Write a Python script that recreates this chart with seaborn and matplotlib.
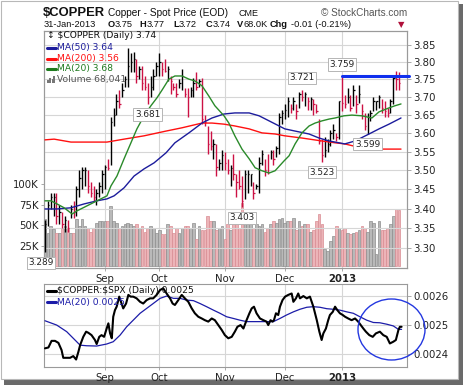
import numpy as np
import matplotlib
matplotlib.use("Agg")
import matplotlib.pyplot as plt
import seaborn as sns
from matplotlib.patches import Rectangle, Ellipse
from matplotlib.lines import Line2D
from matplotlib.ticker import FixedLocator, FuncFormatter, NullLocator

sns.set_theme(style="white")
plt.rcParams["font.family"] = ["DejaVu Sans"]

# ---------------- data ----------------
month_labels = ["Sep", "Oct", "Nov", "Dec", "2013"]
month_lengths = [21, 19, 23, 21, 20, 21]   # Aug .. Jan trading days

aug_h = [3.37, 3.42, 3.44, 3.44, 3.44, 3.41, 3.39, 3.38, 3.37, 3.41, 3.42, 3.46, 3.50, 3.51, 3.51, 3.50, 3.47, 3.46, 3.45, 3.47, 3.50]
aug_l = [3.289, 3.355, 3.40, 3.38, 3.36, 3.36, 3.35, 3.34, 3.34, 3.375, 3.375, 3.38, 3.43, 3.45, 3.46, 3.44, 3.43, 3.42, 3.41, 3.43, 3.44]
aug_c = [3.36, 3.41, 3.43, 3.43, 3.38, 3.39, 3.36, 3.37, 3.35, 3.40, 3.39, 3.45, 3.48, 3.50, 3.50, 3.46, 3.44, 3.43, 3.44, 3.46, 3.49]

sep_h = [3.515, 3.53, 3.645, 3.67, 3.71, 3.72, 3.74, 3.76, 3.84, 3.825, 3.83, 3.81, 3.79, 3.79, 3.76, 3.74, 3.76, 3.78, 3.80]
sep_l = [3.45, 3.50, 3.515, 3.62, 3.65, 3.67, 3.70, 3.73, 3.73, 3.77, 3.77, 3.74, 3.75, 3.72, 3.72, 3.681, 3.70, 3.72, 3.76]
sep_c = [3.51, 3.505, 3.63, 3.65, 3.69, 3.68, 3.72, 3.75, 3.79, 3.80, 3.81, 3.76, 3.78, 3.74, 3.73, 3.70, 3.73, 3.76, 3.79]

oct_h = [3.825, 3.80, 3.81, 3.79, 3.76, 3.74, 3.74, 3.75, 3.78, 3.725, 3.725, 3.73, 3.755, 3.77, 3.75, 3.755, 3.65, 3.62, 3.605, 3.585, 3.57, 3.53, 3.555]
oct_l = [3.76, 3.76, 3.77, 3.745, 3.71, 3.72, 3.70, 3.725, 3.72, 3.70, 3.645, 3.70, 3.70, 3.72, 3.73, 3.625, 3.62, 3.545, 3.555, 3.53, 3.485, 3.50, 3.50]
oct_c = [3.80, 3.78, 3.775, 3.78, 3.745, 3.73, 3.71, 3.74, 3.76, 3.71, 3.70, 3.72, 3.74, 3.73, 3.745, 3.64, 3.63, 3.57, 3.565, 3.57, 3.51, 3.52, 3.54]

nov_h = [3.55, 3.53, 3.515, 3.545, 3.49, 3.50, 3.485, 3.50, 3.50, 3.49, 3.47, 3.465, 3.535, 3.555, 3.53, 3.545, 3.555, 3.555, 3.565, 3.655, 3.665]
nov_l = [3.50, 3.49, 3.46, 3.475, 3.43, 3.45, 3.403, 3.425, 3.44, 3.46, 3.425, 3.45, 3.44, 3.515, 3.485, 3.49, 3.53, 3.515, 3.535, 3.545, 3.625]
nov_c = [3.52, 3.50, 3.505, 3.49, 3.47, 3.46, 3.42, 3.49, 3.49, 3.49, 3.44, 3.46, 3.52, 3.545, 3.50, 3.495, 3.55, 3.53, 3.56, 3.645, 3.655]

dec_h = [3.68, 3.70, 3.68, 3.70, 3.68, 3.715, 3.721, 3.715, 3.70, 3.70, 3.695, 3.68, 3.64, 3.585, 3.59, 3.585, 3.61, 3.625, 3.60, 3.69]
dec_l = [3.64, 3.645, 3.655, 3.665, 3.64, 3.67, 3.69, 3.675, 3.665, 3.665, 3.65, 3.655, 3.57, 3.523, 3.535, 3.55, 3.565, 3.585, 3.58, 3.585]
dec_c = [3.665, 3.69, 3.67, 3.69, 3.66, 3.71, 3.70, 3.71, 3.69, 3.695, 3.68, 3.66, 3.58, 3.54, 3.555, 3.57, 3.60, 3.61, 3.59, 3.69]

jan_h = [3.759, 3.705, 3.725, 3.705, 3.735, 3.705, 3.735, 3.68, 3.655, 3.655, 3.665, 3.70, 3.69, 3.705, 3.695, 3.69, 3.67, 3.695, 3.76, 3.775, 3.77]
jan_l = [3.66, 3.67, 3.685, 3.66, 3.675, 3.655, 3.685, 3.64, 3.61, 3.599, 3.635, 3.66, 3.665, 3.67, 3.655, 3.645, 3.645, 3.655, 3.68, 3.72, 3.72]
jan_c = [3.685, 3.68, 3.70, 3.67, 3.72, 3.68, 3.71, 3.66, 3.62, 3.645, 3.655, 3.69, 3.69, 3.70, 3.67, 3.66, 3.655, 3.69, 3.755, 3.75, 3.74]

# volume in thousands
aug_v = [57, 40, 49, 45, 40, 40, 46, 49, 45, 40, 40, 57, 49, 57, 49, 46, 41, 46, 52, 55, 55]
sep_v = [55, 55, 73, 55, 53, 46, 49, 51, 53, 51, 49, 51, 46, 49, 42, 46, 49, 46, 40]
oct_v = [44, 39, 39, 51, 49, 40, 46, 40, 46, 49, 49, 46, 53, 33, 49, 44, 44, 61, 55, 55, 44, 46, 49]
nov_v = [33, 51, 44, 51, 53, 46, 77, 51, 57, 55, 46, 51, 49, 51, 42, 46, 51, 55, 53, 57, 59]
dec_v = [53, 55, 55, 59, 44, 55, 49, 51, 51, 42, 44, 55, 63, 51, 21, 18, 31, 37, 49, 46]
jan_v = [44, 46, 40, 39, 40, 42, 44, 49, 46, 42, 55, 53, 15, 55, 44, 44, 46, 51, 61, 70, 68.041]

# moving averages (bar position, value)
ma20_pos = [0, 2.1, 4.2, 6.7, 9.5, 11.2, 14.7, 18.2, 21.7, 23.1, 25.2, 27.7, 30.1, 32.2, 34.7, 37.1, 39.2, 41, 43.4, 45.5,
            48, 50.4, 52.5, 55, 57.4, 59.5, 62.7, 64.4, 66.5, 69, 71.5, 73.6, 76, 78.5, 80.6, 83.7, 85.5, 87.6, 90, 92.5,
            94.6, 97, 99.5, 101.6, 104.7, 107.5, 111, 114.5, 117, 120.5, 122.6, 124.7]
ma20_val = [3.42, 3.42, 3.412, 3.402, 3.386, 3.394, 3.407, 3.42, 3.433, 3.459, 3.485, 3.531, 3.574, 3.612, 3.648, 3.676, 3.698, 3.72, 3.751, 3.760,
            3.760, 3.751, 3.746, 3.732, 3.703, 3.676, 3.648, 3.628, 3.593, 3.557, 3.531, 3.507, 3.499, 3.493, 3.499, 3.525, 3.539, 3.571, 3.601, 3.620,
            3.628, 3.634, 3.639, 3.642, 3.648, 3.650, 3.648, 3.642, 3.659, 3.670, 3.676, 3.681]
ma50_pos = [0, 4.2, 9.1, 13.7, 18.2, 21.7, 24.2, 27.7, 31.2, 34.7, 38.2, 42.4, 45.5, 50.4, 55, 58.5, 62.7, 66.5, 71.5, 75,
            78.5, 82, 84, 87.6, 92.5, 96, 99.5, 103, 105, 108.6, 113.5, 117, 120.5, 124.7]
ma50_val = [3.399, 3.399, 3.402, 3.412, 3.42, 3.425, 3.433, 3.454, 3.485, 3.504, 3.520, 3.547, 3.574, 3.601, 3.628, 3.642, 3.653, 3.656, 3.656, 3.648,
            3.634, 3.620, 3.612, 3.606, 3.598, 3.587, 3.579, 3.574, 3.571, 3.579, 3.598, 3.612, 3.625, 3.642]
ma200_pos = [0, 3.2, 9.1, 21.7, 27.7, 34.7, 42.4, 48, 55, 58.5, 62.7, 66.5, 71.5, 76, 80.6, 84, 90, 97, 101.6, 105, 111, 118, 124.7]
ma200_val = [3.582, 3.584, 3.576, 3.576, 3.584, 3.593, 3.606, 3.615, 3.628, 3.628, 3.625, 3.620, 3.612, 3.601, 3.598, 3.593, 3.587, 3.579, 3.574, 3.571, 3.560, 3.557, 3.557]

# $COPPER:$SPX ratio (x 1e-4) and its MA(20)
ratio_pos = [0, 1.2, 2.3, 3.5, 4.7, 5.8, 6.4, 8.8, 9.9, 10.9, 11.7, 12.3, 13.4, 14.4, 15.2, 16.3, 17.5, 18.1, 19.0, 19.8,
             20.7, 21.6, 22.2, 22.8, 23.4, 23.9, 24.5, 25.1, 26.0, 27.4, 28.4, 29.2, 30.0, 30.9, 32.1, 33.3, 34.4, 35.6, 36.8, 37.9,
             39.1, 40.3, 41.4, 42.6, 43.8, 44.7, 45.5, 46.7, 47.9, 49.0, 50.2, 51.4, 52.5, 53.7, 54.9, 56.0, 57.2, 58.4, 59.5, 60.7,
             61.9, 63.0, 64.2, 65.4, 66.5, 67.4, 68.5, 69.5, 70.6, 71.6, 72.4, 73.2, 74.1, 75.3, 76.5, 77.6, 78.2, 79.0, 79.7, 80.2,
             80.9, 81.7, 82.3, 83.2, 84.1, 85.2, 86.4, 87.0, 87.9, 88.7, 89.3, 90.5, 91.7, 92.8, 94.0, 94.6, 95.2, 96.1, 96.9, 97.5,
             98.4, 99.2, 99.8, 100.8, 101.6, 102.4, 103.3, 104.3, 105.1, 106.2, 107.4, 108.6, 109.7, 110.6, 111.5, 112.4, 113.6, 114.8, 115.9, 117.3,
             118.5, 119.7, 120.8, 122.0, 122.9, 123.8, 124.3, 124.9]
ratio_e4 = [24.19, 24.22, 24.45, 24.45, 24.38, 24.13, 23.86, 23.86, 23.92, 23.80, 24.07, 24.30, 24.59, 24.77, 24.73, 24.65, 24.48, 24.34, 24.59, 24.65,
            24.59, 24.88, 25.06, 24.71, 24.54, 25.29, 25.52, 25.64, 25.99, 25.58, 25.75, 26.05, 25.99, 25.99, 25.93, 25.81, 25.75, 25.87, 25.93, 25.93,
            26.05, 26.22, 26.28, 26.10, 25.93, 25.75, 25.70, 25.87, 26.05, 25.93, 25.81, 25.58, 25.41, 25.29, 25.23, 25.17, 25.12, 25.23, 25.17, 25.00,
            24.83, 24.65, 24.54, 24.59, 24.77, 24.94, 25.00, 24.88, 25.17, 25.41, 25.58, 25.64, 25.41, 25.23, 25.17, 25.12, 25.00, 25.17, 25.12, 25.17,
            25.41, 25.35, 25.64, 25.87, 25.99, 26.05, 26.10, 25.81, 25.93, 26.10, 25.93, 26.01, 25.93, 25.99, 25.64, 25.41, 25.17, 24.77, 24.48, 24.71,
            24.88, 25.17, 25.35, 25.46, 25.64, 25.52, 25.41, 25.35, 25.29, 25.23, 25.17, 25.23, 25.12, 25.00, 24.88, 24.77, 24.65, 24.59, 24.71, 24.77,
            24.65, 24.59, 24.36, 24.42, 24.48, 24.83, 24.94, 24.94]
rma_pos = [0, 4.1, 7.6, 11.1, 12.3, 14.6, 18.1, 21.6, 23.9, 26.3, 28.6, 30.9, 33.3, 35.6, 37.9, 40.3, 42.6, 45.0, 47.3, 49.6,
           52.0, 54.3, 56.6, 59.0, 61.3, 63.6, 66.0, 68.3, 70.6, 73.0, 76.5, 80.0, 82.3, 84.6, 87.0, 89.3, 91.7, 94.0, 96.3, 98.7,
           101.0, 103.3, 105.7, 108.0, 110.3, 112.7, 115.0, 117.3, 119.7, 122.0, 123.8, 124.9]
rma_e4 = [25.15, 25.00, 24.77, 24.42, 24.30, 24.28, 24.27, 24.34, 24.42, 24.65, 24.94, 25.17, 25.41, 25.58, 25.75, 25.93, 26.01, 25.93, 25.93, 25.87,
          25.85, 25.75, 25.64, 25.52, 25.41, 25.29, 25.23, 25.17, 25.12, 25.12, 25.12, 25.12, 25.23, 25.35, 25.46, 25.55, 25.62, 25.64, 25.62, 25.57,
          25.55, 25.52, 25.46, 25.41, 25.29, 25.17, 25.09, 25.08, 25.03, 24.97, 24.85, 24.85]

price_ticks = [3.30, 3.35, 3.40, 3.45, 3.50, 3.55, 3.60, 3.65, 3.70, 3.75, 3.80, 3.85]
vol_ticks = [25, 50, 75, 100]
ratio_ticks = [0.0024, 0.0025, 0.0026]
resistance = 3.759
marks = [(3.289, 0, "below"), (3.681, 36, "below"), (3.403, 69, "below"), (3.721, 90, "above"),
         (3.523, 97, "below"), (3.759, 104, "above"), (3.599, 113, "below")]

# ---------------- assemble ----------------
high = np.array(aug_h + sep_h + oct_h + nov_h + dec_h + jan_h)
low = np.array(aug_l + sep_l + oct_l + nov_l + dec_l + jan_l)
close = np.array(aug_c + sep_c + oct_c + nov_c + dec_c + jan_c)
volume = np.array(aug_v + sep_v + oct_v + nov_v + dec_v + jan_v, dtype=float)
n = len(close)
idx = np.arange(n)
prev = np.r_[-np.inf, close[:-1]]
down = close < prev
month_ticks = list(np.cumsum(month_lengths)[:-1])

W, H = 464, 387
fig = plt.figure(figsize=(W / 100, H / 100), dpi=100)
fig.patch.set_facecolor("white")


def box(l, t, r, b):
    return [l / W, 1 - b / H, (r - l) / W, (b - t) / H]


# frame with drop shadow
fig.add_artist(Rectangle((4 / W, 1 - 385 / H), 459 / W, 381 / H, transform=fig.transFigure,
                         facecolor="#6a6a6a", edgecolor="none", zorder=-20))
fig.add_artist(Rectangle((0.5 / W, 1 - 378.5 / H), 457.5 / W, 378 / H, transform=fig.transFigure,
                         facecolor="white", edgecolor="#b8b8b8", lw=0.8, zorder=-19))

XL = (-0.35, 126.8)
grid_c = "#d6d6d6"
spine_c = "#9a9a9a"

# ---------------- main panel ----------------
ax_vol = fig.add_axes(box(44, 31, 407, 268))
ax_vol.set_facecolor("white")
vcol = np.where(down, "#ecb4b8", "#b9b9b9")
vedge = np.where(down, "#d98c93", "#8e8e8e")
ax_vol.bar(idx, volume, width=0.92, color=vcol, edgecolor=vedge, linewidth=0.5, zorder=2)
ax_vol.set_ylim(-2.4, 286.6)
ax_vol.set_xlim(*XL)
ax_vol.set_yticks(vol_ticks)
ax_vol.set_yticklabels([f"{v}K" for v in vol_ticks])
ax_vol.set_xticks(month_ticks)
ax_vol.set_xticklabels(month_labels)
ax_vol.grid(True, axis="x", color=grid_c, lw=0.8, zorder=0)
ax_vol.set_axisbelow(True)
ax_vol.tick_params(axis="y", left=True, length=2, width=0.6, color=spine_c, labelsize=7.3, pad=1.5, labelcolor="#222222")
ax_vol.tick_params(axis="x", bottom=True, length=2, width=0.6, color=spine_c, labelsize=7.3, pad=2.5, labelcolor="#222222")
for t in ax_vol.get_xticklabels():
    if t.get_text() == "2013":
        t.set_fontweight("bold")

ax = ax_vol.twinx()
ax.set_yscale("log")
ax.set_ylim(3.250, 3.8906)
ax.set_xlim(*XL)
ax.yaxis.set_major_locator(FixedLocator(price_ticks))
ax.yaxis.set_major_formatter(FuncFormatter(lambda v, p: f"{v:.2f}"))
ax.yaxis.set_minor_locator(NullLocator())
ax.grid(True, axis="y", color=grid_c, lw=0.8, zorder=0)
ax.tick_params(axis="y", right=True, length=3, width=0.6, color=spine_c, labelsize=7.3, pad=1.5, labelcolor="#222222")

pc = np.where(down, "#cc1144", "#000000")
ax.vlines(idx, low, high, colors=pc, lw=1.0, zorder=3)
ax.hlines(close, idx, idx + 0.5, colors=pc, lw=0.9, zorder=3)

sns.lineplot(x=ma200_pos, y=ma200_val, ax=ax, color="#ff1010", lw=1.0, sort=False, estimator=None, zorder=4)
sns.lineplot(x=ma50_pos, y=ma50_val, ax=ax, color="#1c1c9c", lw=1.0, sort=False, estimator=None, zorder=4)
sns.lineplot(x=ma20_pos, y=ma20_val, ax=ax, color="#2a8a2a", lw=1.0, sort=False, estimator=None, zorder=4)
sns.lineplot(x=[104, 127.6], y=[resistance, resistance], ax=ax, color="#1030ee", lw=2.2,
             sort=False, estimator=None, zorder=5, clip_on=False)

for val, i, where in marks:
    off = 8.5 if where == "above" else -7.6
    dx = -3 if i == 0 else 0
    ax.annotate(f"{val:.3f}", xy=(i, val), xytext=(dx, off), textcoords="offset points",
                ha="center", va="center", fontsize=6.4, color="#222222", zorder=6,
                annotation_clip=False,
                bbox=dict(boxstyle="square,pad=0.18", fc="white", ec="#b5b5b5", lw=0.7))

for a in (ax, ax_vol):
    for s in a.spines.values():
        s.set_color(spine_c)
        s.set_linewidth(0.8)

# ---------------- lower panel ----------------
ax2 = fig.add_axes(box(44, 284, 407, 367))
ax2.set_facecolor("white")
ax2.set_xlim(*XL)
ax2.set_ylim(23.54e-4, 26.43e-4)
sns.lineplot(x=rma_pos, y=np.array(rma_e4) * 1e-4, ax=ax2, color="#1c1ca8", lw=0.9, sort=False, estimator=None, zorder=3)
sns.lineplot(x=ratio_pos, y=np.array(ratio_e4) * 1e-4, ax=ax2, color="#000000", lw=1.5, sort=False, estimator=None, zorder=4)
ax2.yaxis.tick_right()
ax2.set_yticks(ratio_ticks)
ax2.set_yticklabels([f"{v:.4f}" for v in ratio_ticks])
ax2.set_xticks(month_ticks)
ax2.set_xticklabels(month_labels)
ax2.grid(True, color=grid_c, lw=0.8, zorder=0)
ax2.set_axisbelow(True)
ax2.tick_params(axis="y", right=True, left=False, length=3, width=0.6, color=spine_c, labelsize=7.3, pad=1.5, labelcolor="#222222")
ax2.tick_params(axis="x", bottom=True, length=2, width=0.6, color=spine_c, labelsize=7.3, pad=2.5, labelcolor="#222222")
for t in ax2.get_xticklabels():
    if t.get_text() == "2013":
        t.set_fontweight("bold")
for s in ax2.spines.values():
    s.set_color(spine_c)
    s.set_linewidth(0.8)
ax2.set_xlabel("")
ax2.set_ylabel("")
ax.set_ylabel("")
ax_vol.set_ylabel("")

fig.add_artist(Ellipse((391.5 / W, 1 - 329.5 / H), 67 / W, 61 / H, transform=fig.transFigure,
                       fill=False, edgecolor="#2438e0", lw=1.0, zorder=10))


# ---------------- texts ----------------
def ftext(x, y, s, **kw):
    fig.text(x / W, 1 - y / H, s, **kw)


hdr = ["Liberation Sans", "DejaVu Sans"]
ftext(43, 16, "$COPPER", fontsize=9.4, fontweight="bold", family=hdr, va="baseline", color="#111111")
ftext(108, 16, "Copper - Spot Price (EOD)", fontsize=7.3, family=hdr, va="baseline", color="#111111")
ftext(239, 16, "CME", fontsize=6.5, family=hdr, va="baseline", color="#111111")
ftext(407, 15.5, "\u00a9 StockCharts.com", fontsize=7.2, family=hdr, va="baseline", ha="right", color="#555555")

line2 = [(43.3, "31-Jan-2013", False), (107.5, "O", True), (114.5, "3.75", False), (139.5, "H", True),
         (146.5, "3.77", False), (173, "L", True), (179, "3.72", False), (205.5, "C", True), (212.5, "3.74", False),
         (237, "V", True), (244, "68.0K", False), (270, "Chg", True), (291, "-0.01 (-0.21%)", False)]
for x, s, b in line2:
    ftext(x, 27, s, fontsize=6.7, family=hdr, va="baseline",
          fontweight="bold" if b else "normal", color="#111111")
ftext(398, 27, "\u25bc", fontsize=6, va="baseline", color="#b0103a")

leg = [(35.5, "\u2195 $COPPER (Daily) 3.74", "#111111", None),
       (47.5, "MA(50) 3.64", "#1c1c9c", "#1c1c9c"),
       (58.5, "MA(200) 3.56", "#ff1010", "#ff1010"),
       (69.0, "MA(20) 3.68", "#1d7a1d", "#1d7a1d"),
       (79.5, "Volume 68,041", "#555555", None)]
for y, s, c, lc in leg:
    xs = 47.5 if lc is None and s.startswith("\u2195") else 57.5
    if lc is not None:
        fig.add_artist(Line2D([47.5 / W, 56 / W], [1 - y / H] * 2, color=lc, lw=2.2))
    ftext(xs, y, s, fontsize=6.6, va="center", color=c)
# small volume icon
for k, hgt in enumerate([3, 5, 4, 6]):
    fig.add_artist(Rectangle(((47.5 + k * 2) / W, 1 - 82.5 / H), 1.6 / W, hgt / H, transform=fig.transFigure,
                             facecolor="#777777", edgecolor="none"))

fig.add_artist(Line2D([47.5 / W, 56 / W], [1 - 290.7 / H] * 2, color="#000000", lw=2.2))
ftext(57.5, 290.7, "\\$COPPER:\\$SPX (Daily) 0.0025", fontsize=6.6, va="center", color="#111111")
fig.add_artist(Line2D([47.5 / W, 56 / W], [1 - 302 / H] * 2, color="#1c1ca8", lw=2.2))
ftext(57.5, 302, "MA(20) 0.0025", fontsize=6.6, va="center", color="#1c1ca8")

fig.savefig("out.png", dpi=100)
